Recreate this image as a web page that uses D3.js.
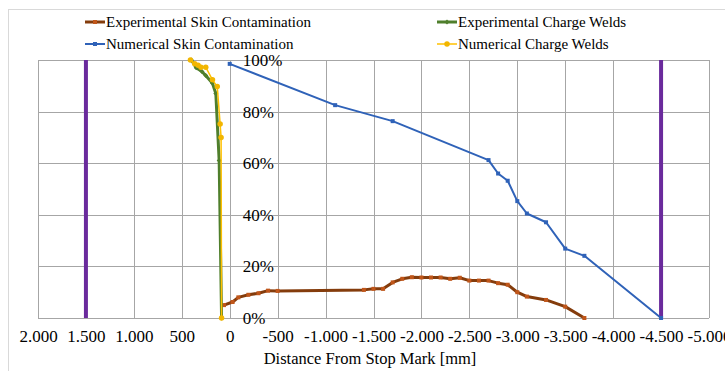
<!DOCTYPE html>
<html>
<head>
<meta charset="utf-8">
<script src="https://cdn.jsdelivr.net/npm/d3@7"></script>
<style>
  body { margin: 0; background: #fff; }
</style>
</head>
<body>
<div id="chart"></div>
<script>
// Dimensions of chart.
const width = 725;
const height = 371;
const plot = { left: 38, right: 709, top: 60, bottom: 318 };
const serif = '"Liberation Serif", "Times New Roman", serif';

// Series data: [distance mm, percent]
const expSkin = [
  [60, 5.0], [-30, 6.2], [-90, 8.0], [-195, 9.0], [-300, 9.6], [-400, 10.6], [-500, 10.5],
  [-1400, 10.9], [-1500, 11.3], [-1600, 11.3], [-1700, 13.8], [-1800, 15.2], [-1900, 15.8],
  [-2000, 15.7], [-2100, 15.7], [-2200, 15.7], [-2300, 15.2], [-2400, 15.6], [-2500, 14.5],
  [-2600, 14.5], [-2700, 14.5], [-2800, 13.5], [-2900, 12.9], [-3000, 10.0], [-3100, 8.3],
  [-3300, 7.0], [-3500, 4.4], [-3700, 0]
];
const numSkin = [
  [0, 98.5], [-1100, 82.5], [-1700, 76.3], [-2700, 61.2], [-2800, 56.0], [-2900, 53.2],
  [-3000, 45.3], [-3100, 40.5], [-3300, 37.1], [-3500, 26.9], [-3700, 24.1], [-4500, 0]
];
const expWelds = [
  [400, 100], [350, 97], [290, 95.5], [250, 94], [180, 91], [145, 87], [110, 61], [85, 0]
];
const numWelds = [
  [410, 100], [365, 98.5], [330, 98], [300, 97.2], [250, 97.2], [180, 92.3], [130, 89.7],
  [100, 75.2], [90, 70], [85, 0]
];
const boundaries = [1500, -4500];

const xTicks = d3.range(2000, -5001, -500);
const yTicks = [0, 20, 40, 60, 80, 100];

const locale = d3.formatLocale({ decimal: ",", thousands: ".", grouping: [3], currency: ["", ""], minus: "-" });
const fmtX = locale.format(",d");

const svg = d3.select("#chart").append("svg")
  .attr("width", width)
  .attr("height", height)
  .attr("font-family", serif);

// Outer chart border
svg.append("rect")
  .attr("x", 8.5).attr("y", 9.5)
  .attr("width", width + 10).attr("height", height + 10)
  .attr("fill", "none").attr("stroke", "#d9d9d9");

const x = d3.scaleLinear().domain([2000, -5000]).range([plot.left, plot.right]);
const y = d3.scaleLinear().domain([0, 100]).range([plot.bottom, plot.top]);

// Gridlines
svg.append("g")
  .selectAll("line")
  .data(xTicks)
  .join("line")
  .attr("x1", d => Math.round(x(d)) + 0.5)
  .attr("x2", d => Math.round(x(d)) + 0.5)
  .attr("y1", plot.top)
  .attr("y2", plot.bottom)
  .attr("stroke", "#a6a6a6");

svg.append("g")
  .selectAll("line")
  .data(yTicks)
  .join("line")
  .attr("x1", plot.left)
  .attr("x2", plot.right)
  .attr("y1", d => Math.round(y(d)) + 0.5)
  .attr("y2", d => Math.round(y(d)) + 0.5)
  .attr("stroke", "#a6a6a6");

// X tick labels
const xAxis = d3.axisBottom(x).tickValues(xTicks).tickFormat(fmtX).tickSize(0).tickPadding(12);
const gx = svg.append("g")
  .attr("transform", `translate(0,${plot.bottom})`)
  .call(xAxis)
  .attr("font-family", serif)
  .attr("font-size", 17);
gx.select(".domain").remove();
gx.selectAll("text").attr("fill", "#000");

// Y tick labels (axis crosses at 0, labels on the right side)
const yAxis = d3.axisRight(y).tickValues(yTicks).tickFormat(d => d + "%").tickSize(0).tickPadding(13);
const gy = svg.append("g")
  .attr("transform", `translate(${x(0)},0)`)
  .call(yAxis)
  .attr("font-family", serif)
  .attr("font-size", 17);
gy.select(".domain").remove();
gy.selectAll("text").attr("fill", "#000");

// Axis title
svg.append("text")
  .attr("x", 370)
  .attr("y", 364)
  .attr("text-anchor", "middle")
  .attr("font-size", 16.5)
  .text("Distance From Stop Mark [mm]");

// Boundary lines
svg.append("g")
  .selectAll("line")
  .data(boundaries)
  .join("line")
  .attr("x1", d => x(d))
  .attr("x2", d => x(d))
  .attr("y1", y(0))
  .attr("y2", y(100))
  .attr("stroke", "#6a2a9c")
  .attr("stroke-width", 4);

const line = d3.line().x(d => x(d[0])).y(d => y(d[1]));

const series = [
  { name: "Experimental Skin Contamination", data: expSkin, color: "#843c0c", marker: "#c0561a", width: 3, shape: "square", size: 4 },
  { name: "Numerical Skin Contamination", data: numSkin, color: "#2f62b8", marker: "#2f62b8", width: 2, shape: "square", size: 4 },
  { name: "Experimental Charge Welds", data: expWelds, color: "#4f7f2c", marker: "#4f7f2c", width: 3, shape: "diamond", size: 5 },
  { name: "Numerical Charge Welds", data: numWelds, color: "#ffc000", marker: "#f2b600", width: 1.5, shape: "circle", size: 5.5 }
];

function drawMarker(g, shape, size, color, cx, cy) {
  if (shape === "circle") {
    g.append("circle").attr("cx", cx).attr("cy", cy).attr("r", size / 2).attr("fill", color);
  } else if (shape === "diamond") {
    g.append("path")
      .attr("d", `M${cx},${cy - size / 2}L${cx + size / 2},${cy}L${cx},${cy + size / 2}L${cx - size / 2},${cy}Z`)
      .attr("fill", color);
  } else {
    g.append("rect").attr("x", cx - size / 2).attr("y", cy - size / 2)
      .attr("width", size).attr("height", size).attr("fill", color);
  }
}

series.forEach(s => {
  const g = svg.append("g");
  g.append("path")
    .datum(s.data)
    .attr("d", line)
    .attr("fill", "none")
    .attr("stroke", s.color)
    .attr("stroke-width", s.width)
    .attr("stroke-linejoin", "round");
  s.data.forEach(d => drawMarker(g, s.shape, s.size, s.marker, x(d[0]), y(d[1])));
});

// Legend
const legendPos = [
  { x: 85, y: 22 }, { x: 85, y: 44 }, { x: 437, y: 22 }, { x: 437, y: 44 }
];
series.forEach((s, i) => {
  const p = legendPos[i];
  const g = svg.append("g");
  g.append("line")
    .attr("x1", p.x).attr("x2", p.x + 20)
    .attr("y1", p.y).attr("y2", p.y)
    .attr("stroke", s.color).attr("stroke-width", s.width);
  drawMarker(g, s.shape, s.size, s.marker, p.x + 10, p.y);
  g.append("text")
    .attr("x", p.x + 21)
    .attr("y", p.y + 5)
    .attr("font-size", 15)
    .text(s.name);
});
</script>
</body>
</html>
